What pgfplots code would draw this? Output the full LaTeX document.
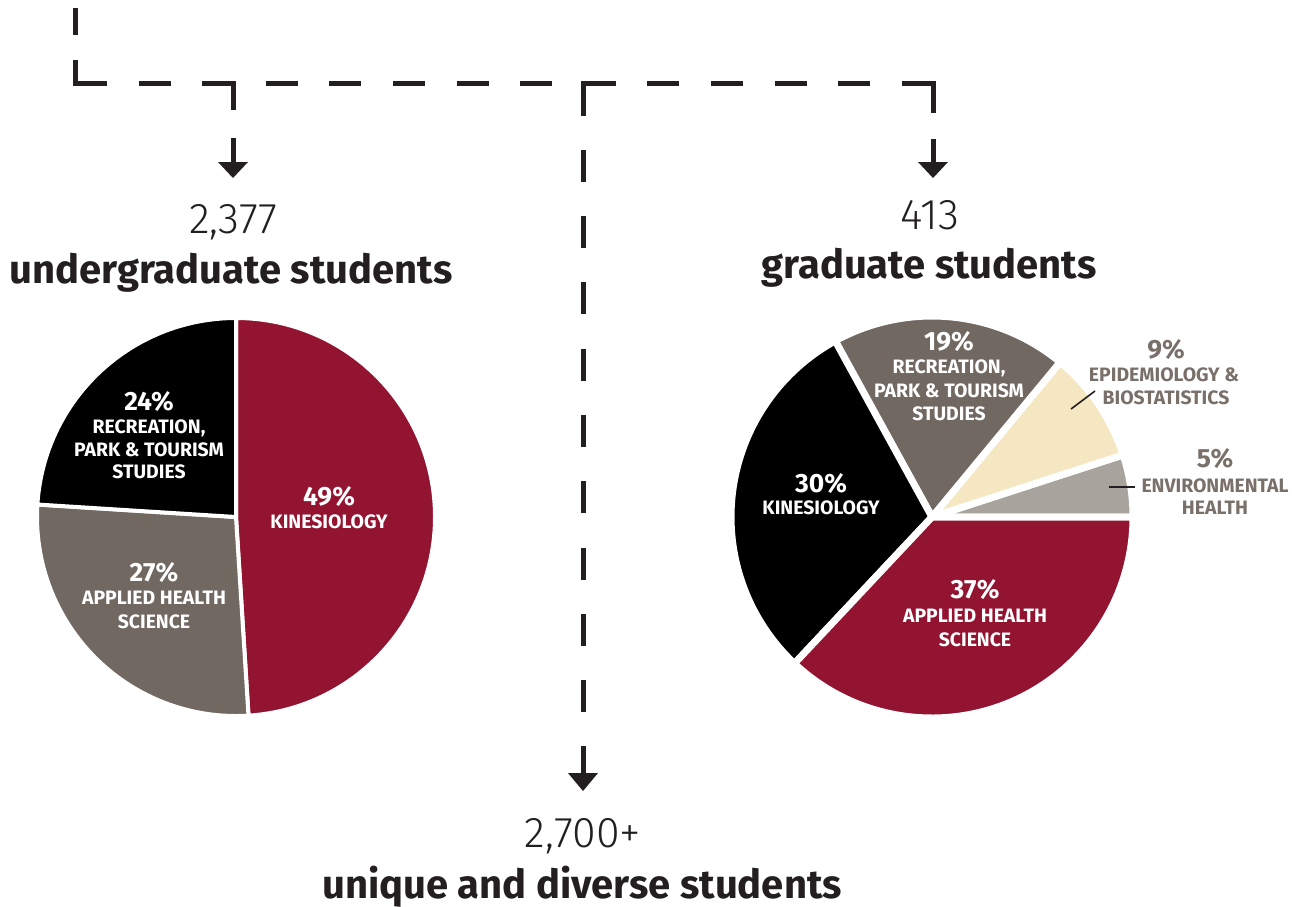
\documentclass[border=0pt]{standalone}
\usepackage{fontspec}
\setmainfont{Fira Sans}
\newfontfamily\lightfont{Fira Sans Light}
\usepackage{pgfplots}
\pgfplotsset{compat=1.18}

\definecolor{maroon}{HTML}{921431}
\definecolor{warmgray}{HTML}{716862}
\definecolor{cream}{HTML}{F5E7C2}
\definecolor{lgray}{HTML}{A8A39D}
\definecolor{ink}{HTML}{231F20}
\definecolor{labelgray}{HTML}{7A706A}

% shares in percent / colour
\def\undergrad{49/maroon, 27/warmgray, 24/black}          % clockwise from 12 o'clock
\def\grad{5/lgray, 9/cream, 19/warmgray, 30/black, 37/maroon} % counter-clockwise from 3 o'clock

% #1 cx, #2 cy (axis units), #3 radius, #4 start angle, #5 direction, #6 list, #7 gap width
\newcommand\drawpie[7]{%
  \gdef\cum{0}%
  \foreach \p/\col in #6 {%
    \pgfmathsetmacro\sa{#4+#5*3.6*\cum}%
    \pgfmathsetmacro\ea{#4+#5*3.6*(\cum+\p)}%
    \fill[fill=\col, draw=white, line width=#7, line join=round]
      (axis cs:#1,#2) -- ++(\sa:#3) arc[start angle=\sa, end angle=\ea, radius=#3] -- cycle;
    \pgfmathsetmacro\nc{\cum+\p}\xdef\cum{\nc}%
  }%
}

\tikzset{
  pct/.style={font=\bfseries\fontsize{13.2}{15}\selectfont, text=white, inner sep=0, anchor=base},
  lbl/.style={font=\bfseries\fontsize{9.7}{11}\selectfont, text=white, inner sep=0, anchor=base},
  big/.style={font=\lightfont\fontsize{21.5}{24}\selectfont, text=ink, inner sep=0, anchor=base},
  head/.style={font=\bfseries\fontsize{20}{22}\selectfont, text=ink, inner sep=0, anchor=base},
  dl/.style={ink, line width=2.5pt},
}

\begin{document}
\begin{tikzpicture}
\begin{axis}[
  scale only axis, width=652.5pt, height=453pt,
  xmin=0, xmax=1305, ymin=0, ymax=906, y dir=reverse,
  hide axis, clip=false,
]
\path (axis cs:0,0) rectangle (axis cs:1305,906);

% connector lines
\draw[dl, dash pattern=on 16pt off 15.8pt] (axis cs:75,83.5) -- (axis cs:933,83.5);
\draw[dl, dash pattern=on 16pt off 17.15pt] (axis cs:583,83.5) -- (axis cs:583,715);
\draw[dl] (axis cs:75,8) -- (axis cs:75,35);
\draw[dl, line join=miter] (axis cs:75,60) -- (axis cs:75,83.5) -- (axis cs:107,83.5);
\draw[dl, line join=miter] (axis cs:202,83.5) -- (axis cs:233,83.5) -- (axis cs:233,110);
\draw[dl, line join=miter] (axis cs:616,83.5) -- (axis cs:583,83.5) -- (axis cs:583,114);
\draw[dl, line join=miter] (axis cs:902,83.5) -- (axis cs:933,83.5) -- (axis cs:933,113);
% arrows
\draw[dl] (axis cs:233,138) -- (axis cs:233,165);
\fill[ink] (axis cs:218,162) -- (axis cs:248,162) -- (axis cs:233,178) -- cycle;
\draw[dl] (axis cs:933,139) -- (axis cs:933,165);
\fill[ink] (axis cs:918,162) -- (axis cs:948,162) -- (axis cs:933,178) -- cycle;
\draw[dl] (axis cs:583,746) -- (axis cs:583,776);
\fill[ink] (axis cs:568,773) -- (axis cs:598,773) -- (axis cs:583,791) -- cycle;

% pies
\pgfplotsextra{\drawpie{236}{517}{99.5pt}{90}{-1}{\undergrad}{2pt}}
\pgfplotsextra{\drawpie{932}{517}{100.5pt}{0}{1}{\grad}{3.5pt}}

% headings
\node[big]  at (axis cs:233,233) {2,377};
\node[head] at (axis cs:231,283) {undergraduate students};
\node[big]  at (axis cs:930,229) {413};
\node[head] at (axis cs:929,278) {graduate students};
\node[big]  at (axis cs:583,847) {2,700+};
\node[head] at (axis cs:582,898) {unique and diverse students};

% undergraduate labels
\node[pct] at (axis cs:149,410) {24\%};
\node[lbl] at (axis cs:149,433.5) {RECREATION,};
\node[lbl] at (axis cs:149,456.5) {PARK \& TOURISM};
\node[lbl] at (axis cs:149,478.5) {STUDIES};
\node[pct] at (axis cs:329,505) {49\%};
\node[lbl] at (axis cs:329,528.5) {KINESIOLOGY};
\node[pct] at (axis cs:154,581) {27\%};
\node[lbl] at (axis cs:154,604.5) {APPLIED HEALTH};
\node[lbl] at (axis cs:154,628.5) {SCIENCE};

% graduate labels
\node[pct] at (axis cs:949,350.5) {19\%};
\node[lbl] at (axis cs:949,373.5) {RECREATION,};
\node[lbl] at (axis cs:949,397.5) {PARK \& TOURISM};
\node[lbl] at (axis cs:949,420.5) {STUDIES};
\node[pct] at (axis cs:821,492) {30\%};
\node[lbl] at (axis cs:821,514.5) {KINESIOLOGY};
\node[pct] at (axis cs:975,598.5) {37\%};
\node[lbl] at (axis cs:975,622.5) {APPLIED HEALTH};
\node[lbl] at (axis cs:975,646.5) {SCIENCE};
\node[pct, text=labelgray] at (axis cs:1166,358) {9\%};
\node[lbl, text=labelgray] at (axis cs:1164,381.5) {EPIDEMIOLOGY \&};
\node[lbl, text=labelgray] at (axis cs:1166,404.5) {BIOSTATISTICS};
\node[pct, text=labelgray] at (axis cs:1215,467) {5\%};
\node[lbl, text=labelgray] at (axis cs:1215,492) {ENVIRONMENTAL};
\node[lbl, text=labelgray] at (axis cs:1215,514.5) {HEALTH};
\draw[ink, line width=0.8pt] (axis cs:1071,409) -- (axis cs:1095,391);
\draw[ink, line width=0.8pt] (axis cs:1109,487) -- (axis cs:1135,487);
\end{axis}
\end{tikzpicture}
\end{document}
